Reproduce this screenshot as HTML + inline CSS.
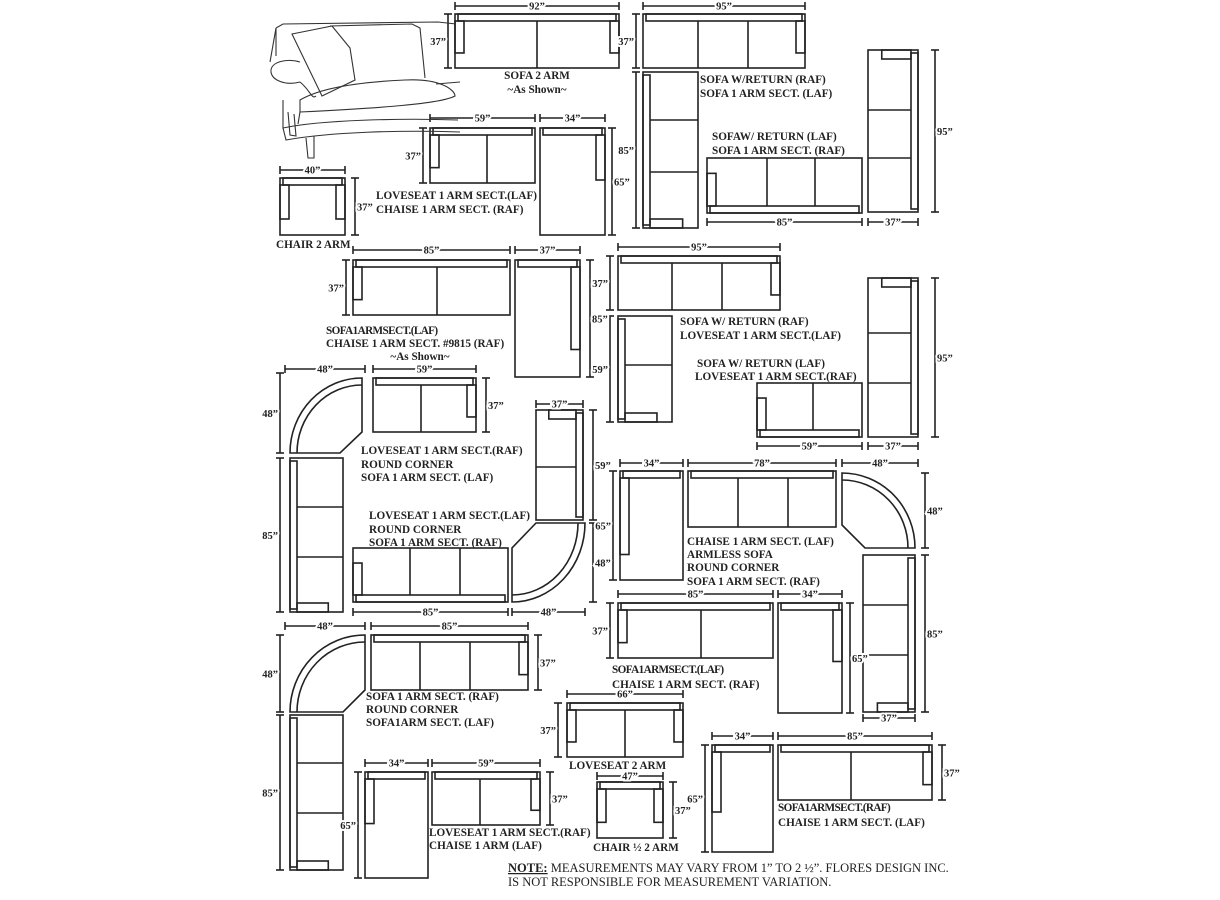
<!DOCTYPE html>
<html><head><meta charset="utf-8"><style>
html,body{margin:0;padding:0;background:#fff;}
svg{display:block;}
text{font-family:"Liberation Serif",serif;font-weight:bold;font-size:11.2px;fill:#222;}
.d{font-size:10.5px;}
.n{font-weight:normal;font-size:12.5px;}
</style></head><body>
<svg id="s" width="1220" height="900" viewBox="0 0 1220 900" xmlns="http://www.w3.org/2000/svg">
<g id="g" fill="none" stroke="#222" stroke-width="1.6"></g>
<g fill="none" stroke="#333" stroke-width="1.1">
<path d="M276,28 L283,24 L438,22 L456,24"/>
<path d="M292,34 L312,30 L332,26 L350,48 L355,80 L322,96 Z"/>
<path d="M300,62 C286,58 270,62 271,72 C272,80 285,86 300,82"/>
<path d="M276,28 L276,56"/>
<path d="M300,82 C310,90 312,100 316,96"/>
<path d="M330,26 L412,24 L420,28 L425,78"/>
<path d="M300,100 C320,88 360,82 405,80 C440,78 455,90 455,96 C440,104 380,108 300,112 Z"/>
<path d="M283,100 L283,128 C320,120 400,118 458,120"/>
<path d="M300,112 L298,124"/>
<path d="M283,128 L286,140 C330,132 400,130 460,132"/>
<path d="M288,112 L290,135 L296,136 L294,114"/>
<path d="M306,138 L308,158 L314,158 L314,136"/>
<path d="M436,84 L460,82"/>
<path d="M270,62 L276,28"/>
</g>
<g font-family="Liberation Serif">
<text x="537" y="79" text-anchor="middle">SOFA 2 ARM</text>
<text x="537" y="93" text-anchor="middle">~As Shown~</text>
<text x="700" y="83">SOFA W/RETURN (RAF)</text>
<text x="700" y="97">SOFA 1 ARM SECT. (LAF)</text>
<text x="712" y="140">SOFAW/ RETURN (LAF)</text>
<text x="712" y="154">SOFA 1 ARM SECT. (RAF)</text>
<text x="376" y="199">LOVESEAT 1 ARM SECT.(LAF)</text>
<text x="376" y="213">CHAISE 1 ARM SECT. (RAF)</text>
<text x="276" y="248">CHAIR 2 ARM</text>
<text x="326" y="334" letter-spacing="-0.6">SOFA1ARMSECT.(LAF)</text>
<text x="326" y="347">CHAISE 1 ARM SECT. #9815 (RAF)</text>
<text x="420" y="360" text-anchor="middle">~As Shown~</text>
<text x="680" y="325">SOFA W/ RETURN (RAF)</text>
<text x="680" y="339">LOVESEAT  1 ARM SECT.(LAF)</text>
<text x="697" y="367">SOFA  W/ RETURN (LAF)</text>
<text x="695" y="380">LOVESEAT 1 ARM SECT.(RAF)</text>
<text x="361" y="454">LOVESEAT 1 ARM SECT.(RAF)</text>
<text x="361" y="468">ROUND CORNER</text>
<text x="361" y="481">SOFA 1 ARM SECT. (LAF)</text>
<text x="369" y="519">LOVESEAT 1 ARM SECT.(LAF)</text>
<text x="369" y="533">ROUND CORNER</text>
<text x="369" y="546">SOFA 1 ARM SECT. (RAF)</text>
<text x="687" y="545">CHAISE 1 ARM SECT. (LAF)</text>
<text x="687" y="558">ARMLESS SOFA</text>
<text x="687" y="571">ROUND CORNER</text>
<text x="687" y="585">SOFA 1 ARM SECT. (RAF)</text>
<text x="612" y="673" letter-spacing="-0.6">SOFA1ARMSECT.(LAF)</text>
<text x="612" y="688">CHAISE 1 ARM SECT. (RAF)</text>
<text x="366" y="700">SOFA 1 ARM SECT. (RAF)</text>
<text x="366" y="713">ROUND CORNER</text>
<text x="366" y="726">SOFA1ARM SECT. (LAF)</text>
<text x="569" y="769">LOVESEAT  2 ARM</text>
<text x="778" y="811" letter-spacing="-0.6">SOFA1ARMSECT.(RAF)</text>
<text x="778" y="826">CHAISE 1 ARM SECT.  (LAF)</text>
<text x="429" y="836">LOVESEAT 1 ARM SECT.(RAF)</text>
<text x="429" y="849">CHAISE 1 ARM (LAF)</text>
<text x="593" y="851">CHAIR ½  2 ARM</text>
<text x="508" y="872" class="n"><tspan font-weight="bold" text-decoration="underline">NOTE:</tspan> MEASUREMENTS MAY VARY FROM 1” TO 2 ½”. FLORES DESIGN INC.</text>
<text x="508" y="886" class="n">IS NOT RESPONSIBLE FOR MEASUREMENT VARIATION.</text>
</g>
<g id="dims"></g>
<script>
var g=document.getElementById('g'),dg=document.getElementById('dims'),NS='http://www.w3.org/2000/svg';
function el(t,a,p){var e=document.createElementNS(NS,t);for(var k in a)e.setAttribute(k,a[k]);(p||g).appendChild(e);return e;}
function R(x1,y1,x2,y2){el('rect',{x:x1,y:y1,width:x2-x1,height:y2-y1});}
function L(x1,y1,x2,y2){el('line',{x1:x1,y1:y1,x2:x2,y2:y2});}
function S(x1,y1,x2,y2,back,arms,divs,armFrac){
  R(x1,y1,x2,y2);var bt=7,aw=9,f=armFrac||0.68;
  var hor=(back=='t'||back=='b');
  if(hor){
    var by1=back=='t'?y1:y2-bt,by2=by1+bt;
    R(x1+3,by1,x2-3,by2);
    var d=(y2-y1-bt)*f;
    arms.forEach(function(a){var ax=a=='a'?x1:x2-aw;
      if(back=='t')R(ax,by2,ax+aw,by2+d);else R(ax,by1-d,ax+aw,by1);});
    divs.forEach(function(x){if(back=='t')L(x,by2,x,y2);else L(x,y1,x,by1);});
  }else{
    var bx1=back=='l'?x1:x2-bt,bx2=bx1+bt;
    R(bx1,y1+3,bx2,y2-3);
    var d=(x2-x1-bt)*f;
    arms.forEach(function(a){var ay=a=='a'?y1:y2-aw;
      if(back=='l')R(bx2,ay,bx2+d,ay+aw);else R(bx1-d,ay,bx1,ay+aw);});
    divs.forEach(function(y){if(back=='l')L(bx2,y,x2,y);else L(x1,y,bx1,y);});
  }
}
function dimH(x1,x2,y,t){L(x1,y,x2,y);L(x1,y-4,x1,y+4);L(x2,y-4,x2,y+4);
  var tx=el('text',{x:(x1+x2)/2,y:y+3.5,'text-anchor':'middle','class':'d',stroke:'#fff','stroke-width':4,'paint-order':'stroke'},dg);tx.textContent=t;}
function dimV(x,y1,y2,t,side){L(x,y1,x,y2);L(x-4,y1,x+4,y1);L(x-4,y2,x+4,y2);
  var tx=el('text',{x:side=='r'?x+2:x-2,y:(y1+y2)/2+4,'text-anchor':side=='r'?'start':'end','class':'d',stroke:'#fff','stroke-width':4,'paint-order':'stroke'},dg);tx.textContent=t;}
function P(d){el('path',{d:d});}
var Q='”';
S(455,14,619,68,'t',['a','b'],[537]);dimH(455,619,6,'92'+Q);dimV(448,14,68,'37'+Q);
S(643,14,805,68,'t',['b'],[698,748]);S(643,72,698,228,'l',['b'],[120,172]);
dimH(643,805,6,'95'+Q);dimV(636,14,68,'37'+Q);dimV(636,72,228,'85'+Q);
S(707,158,862,213,'b',['a'],[767,815]);S(868,50,918,212,'r',['a'],[110,158]);
dimV(935,50,212,'95'+Q,'r');dimH(707,862,222,'85'+Q);dimH(868,918,222,'37'+Q);
S(430,128,535,183,'t',['a'],[487]);S(540,128,605,235,'t',['b'],[],0.45);
dimH(430,535,118,'59'+Q);dimH(540,605,118,'34'+Q);dimV(423,128,183,'37'+Q);dimV(612,128,235,'65'+Q,'r');
S(280,178,345,235,'t',['a','b'],[]);dimH(280,345,170,'40'+Q);dimV(355,178,235,'37'+Q,'r');
S(353,260,510,315,'t',['a'],[437]);S(515,260,580,377,'t',['b'],[],0.75);
dimH(353,510,250,'85'+Q);dimH(515,580,250,'37'+Q);dimV(346,260,315,'37'+Q);dimV(590,260,377,'85'+Q,'r');
S(618,256,780,310,'t',['b'],[672,722]);S(618,316,672,422,'l',['b'],[365]);
dimH(618,780,247,'95'+Q);dimV(610,256,310,'37'+Q);dimV(610,316,422,'59'+Q);
S(757,383,862,437,'b',['a'],[813]);S(868,278,918,437,'r',['a'],[333,383]);
dimV(935,278,437,'95'+Q,'r');dimH(757,862,446,'59'+Q);dimH(868,918,446,'37'+Q);
P('M290,453 A72,75 0 0 1 362,378 L362,432 L340,453 Z');P('M297,453 A65,68 0 0 1 362,385');
S(373,378,476,432,'t',['b'],[421]);S(290,458,343,612,'l',['b'],[507,557]);
dimH(285,365,369,'48'+Q);dimH(373,476,369,'59'+Q);dimV(280,373,453,'48'+Q);dimV(486,378,432,'37'+Q,'r');dimV(280,458,612,'85'+Q);
S(536,410,583,520,'r',['a'],[467]);P('M585,523 A73,79 0 0 1 512,602 L512,548 L536,523 Z');P('M578,523 A66,72 0 0 1 512,595');
S(353,548,508,602,'b',['a'],[410,460]);
dimH(536,583,404,'37'+Q);dimV(593,410,520,'59'+Q,'r');dimV(593,523,602,'48'+Q,'r');dimH(353,508,612,'85'+Q);dimH(512,585,612,'48'+Q);
S(620,471,683,580,'t',['a'],[],0.75);S(688,471,836,527,'t',[],[738,788]);
P('M842,473 A73,75 0 0 1 915,548 L865,548 L842,525 Z');P('M842,480 A66,68 0 0 1 908,548');
S(863,555,915,712,'r',['b'],[605,655]);
dimH(620,683,463,'34'+Q);dimH(688,836,463,'78'+Q);dimH(842,918,463,'48'+Q);dimV(613,471,580,'65'+Q);
dimV(925,473,548,'48'+Q,'r');dimV(925,555,712,'85'+Q,'r');dimH(863,915,718,'37'+Q);
S(618,603,773,658,'t',['a'],[701]);S(778,603,842,713,'t',['b'],[],0.5);
dimH(618,773,594,'85'+Q);dimH(778,842,594,'34'+Q);dimV(610,603,658,'37'+Q);dimV(850,603,713,'65'+Q,'r');
P('M290,712 A75,77 0 0 1 365,635 L365,690 L343,712 Z');P('M297,712 A68,70 0 0 1 365,642');
S(371,635,528,690,'t',['b'],[420,470]);S(290,715,343,870,'l',['b'],[763,813]);
dimH(285,365,626,'48'+Q);dimH(371,528,626,'85'+Q);dimV(280,635,712,'48'+Q);dimV(538,635,690,'37'+Q,'r');dimV(280,715,870,'85'+Q);
S(567,703,683,757,'t',['a','b'],[625]);dimH(567,683,694,'66'+Q);dimV(558,703,757,'37'+Q);
S(365,772,428,878,'t',['a'],[],0.45);S(432,772,540,825,'t',['b'],[480]);
dimH(365,428,763,'34'+Q);dimH(432,540,763,'59'+Q);dimV(358,772,878,'65'+Q);dimV(550,772,825,'37'+Q,'r');
S(597,782,663,838,'t',['a','b'],[]);dimH(597,663,776,'47'+Q);dimV(673,782,838,'37'+Q,'r');
S(712,745,773,852,'t',['a'],[],0.6);S(778,745,932,800,'t',['b'],[851]);
dimH(712,773,736,'34'+Q);dimH(778,932,736,'85'+Q);dimV(705,745,852,'65'+Q);dimV(942,745,800,'37'+Q,'r');
</script>
</svg>
</body></html>
